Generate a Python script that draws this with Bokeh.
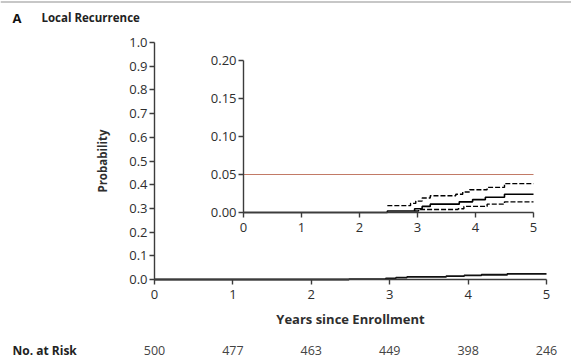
from bokeh.plotting import figure
from bokeh.models import Range1d, LinearAxis, FixedTicker, Label, Span, PrintfTickFormatter
from bokeh.embed import file_html
from bokeh.resources import INLINE

# ---------------- data ----------------
years_ticks = [0, 1, 2, 3, 4, 5]
main_y_ticks = [0.0, 0.1, 0.2, 0.3, 0.4, 0.5, 0.6, 0.7, 0.8, 0.9, 1.0]
inset_y_ticks = [0.0, 0.05, 0.10, 0.15, 0.20]
at_risk = [500, 477, 463, 449, 398, 246]

est_t = [0, 2.48, 2.95, 3.08, 3.22, 3.72, 3.95, 4.17, 4.5, 5.0]
est_p = [0.0, 0.002, 0.005, 0.008, 0.011, 0.014, 0.017, 0.020, 0.024, 0.024]

upper_t = [2.48, 2.88, 2.97, 3.08, 3.22, 3.66, 3.78, 3.9, 4.2, 4.5, 5.0]
upper_p = [0.009, 0.012, 0.015, 0.019, 0.022, 0.024, 0.027, 0.030, 0.033, 0.038, 0.038]

lower_t = [2.95, 3.02, 3.7, 3.8, 4.2, 4.5, 5.0]
lower_p = [0.002, 0.004, 0.005, 0.008, 0.011, 0.014, 0.014]

threshold = 0.05

FONT = "Open Sans"
DARK = "#2e2e2e"
AX = "#3c3c3c"

# ---------------- layout (pixels on the canvas) ----------------
W, H = 571, 364
MX0, MX5, MY0, MY1 = 154, 546, 279, 42       # main axes: x=0, x=5, y=0, y=1
IX0, IX5, IY0, IY20 = 243, 533, 212, 60      # inset axes: x=0, x=5, y=0, y=0.2

mx = (MX5 - MX0) / 5.0
my = (MY0 - MY1) / 1.0
ix = (IX5 - IX0) / 5.0
iy = (IY0 - IY20) / 0.20

p = figure(width=W, height=H, output_backend="svg", toolbar_location=None,
           x_axis_location=None, y_axis_location=None, title=None,
           x_range=Range1d(0 - MX0 / mx, 5 + (W - MX5) / mx),
           y_range=Range1d(0 - (H - MY0) / my, 1 + MY1 / my),
           min_border_left=0, min_border_right=0,
           min_border_top=0, min_border_bottom=0)
p.outline_line_color = None
p.grid.visible = False
p.background_fill_color = "white"
p.border_fill_color = "white"

p.extra_x_ranges = {"ix": Range1d(0 - IX0 / ix, 5 + (W - IX5) / ix)}
p.extra_y_ranges = {"iy": Range1d(0 - (H - IY0) / iy, 0.20 + IY20 / iy)}


def style_axis(ax, size="13px"):
    ax.axis_line_color = AX
    ax.axis_line_width = 1.4
    ax.major_tick_line_color = AX
    ax.major_tick_line_width = 1.4
    ax.major_tick_out = 5
    ax.major_tick_in = 0
    ax.minor_tick_line_color = None
    ax.major_label_text_font = FONT
    ax.major_label_text_font_size = size
    ax.major_label_text_color = DARK
    ax.major_label_standoff = 2


# main axes
xa = LinearAxis(fixed_location=0, bounds=(0, 5), ticker=FixedTicker(ticks=years_ticks),
                axis_label="Years since Enrollment")
ya = LinearAxis(fixed_location=0, bounds=(0, 1), ticker=FixedTicker(ticks=main_y_ticks),
                formatter=PrintfTickFormatter(format="%.1f"), axis_label="Probability")
style_axis(xa)
style_axis(ya)
xa.major_label_standoff = 5
for a in (xa, ya):
    a.axis_label_text_font = FONT
    a.axis_label_text_font_style = "bold"
    a.axis_label_text_color = DARK
xa.axis_label_text_font_size = "13px"
ya.axis_label_text_font_size = "11.5px"
xa.axis_label_standoff = 8
ya.axis_label_standoff = 16
p.add_layout(xa, "below")
p.add_layout(ya, "left")

# inset axes
iax = LinearAxis(x_range_name="ix", y_range_name="iy", fixed_location=0,
                 bounds=(0, 5), ticker=FixedTicker(ticks=years_ticks))
iay = LinearAxis(x_range_name="ix", y_range_name="iy", fixed_location=0,
                 bounds=(0, 0.20), ticker=FixedTicker(ticks=inset_y_ticks),
                 formatter=PrintfTickFormatter(format="%.2f"))
style_axis(iax)
style_axis(iay)
iax.major_label_standoff = 5
p.add_layout(iax, "below")
p.add_layout(iay, "left")

# thin rule at the top of the panel
p.add_layout(Span(location=H - 1.5, location_units="screen", dimension="width",
                  line_color="#b4b4b4", line_width=1.5))

# threshold line in inset
p.line([years_ticks[0], years_ticks[-1]], [threshold, threshold],
       x_range_name="ix", y_range_name="iy", line_color="#c27a66", line_width=1.2)

# inset curves
p.step(upper_t, upper_p, mode="after", x_range_name="ix", y_range_name="iy",
       line_color="black", line_width=1.4, line_dash="5 2")
p.step(lower_t, lower_p, mode="after", x_range_name="ix", y_range_name="iy",
       line_color="black", line_width=1.4, line_dash="5 2")
p.step(est_t, est_p, mode="after", x_range_name="ix", y_range_name="iy",
       line_color="black", line_width=1.6)

# main curve
p.step(est_t, est_p, mode="after", line_color="#111111", line_width=1.8)

# title
p.add_layout(Label(x=12, y=H - 17, x_units="screen", y_units="screen",
                   text="A", text_font=FONT, text_font_style="bold",
                   text_font_size="13px", text_color="#111111", text_baseline="middle"))
p.add_layout(Label(x=41, y=H - 17, x_units="screen", y_units="screen",
                   text="Local Recurrence", text_font=FONT, text_font_style="bold",
                   text_font_size="11.5px", text_color="#222222", text_baseline="middle"))

# number at risk
p.add_layout(Label(x=12, y=H - 350, x_units="screen", y_units="screen",
                   text="No. at Risk", text_font=FONT, text_font_style="bold",
                   text_font_size="12px", text_color="#222222", text_baseline="middle"))
for yr, n in zip(years_ticks, at_risk):
    p.add_layout(Label(x=yr, y=H - 350, x_units="data", y_units="screen",
                       text=str(n), text_font=FONT, text_font_size="12.5px",
                       text_color="#444444", text_align="center", text_baseline="middle"))

open("out.html", "w").write(file_html(p, INLINE))
